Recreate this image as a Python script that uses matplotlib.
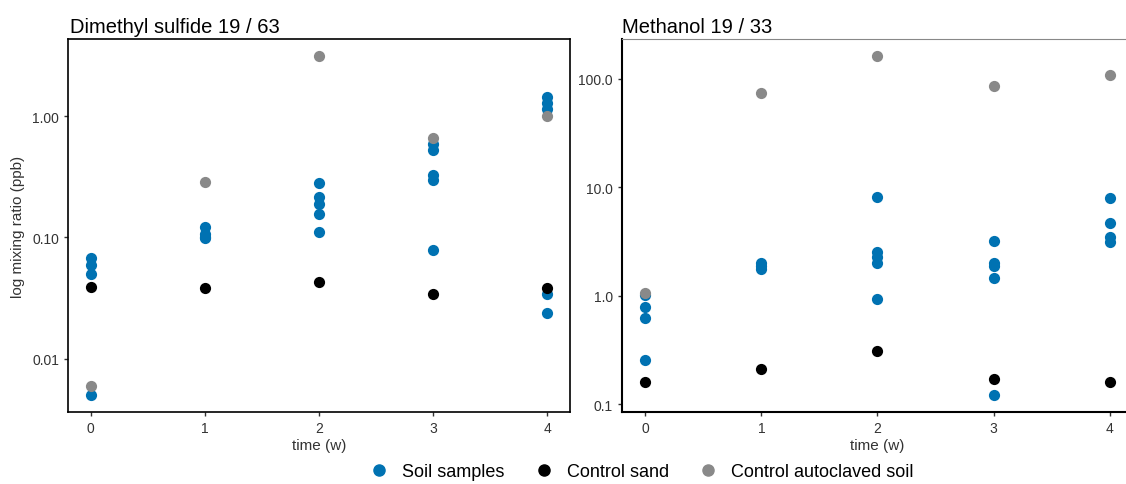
import numpy as np
import matplotlib.pyplot as plt
from matplotlib.ticker import FixedLocator, NullLocator
from matplotlib.lines import Line2D

plt.rcParams['font.family'] = ['Liberation Sans', 'DejaVu Sans']

# Dimethyl sulfide (left panel)
dms_soil_t = [0, 0, 0, 0, 1, 1, 1, 1, 2, 2, 2, 2, 2, 3, 3, 3, 3, 3, 4, 4, 4, 4, 4]
dms_soil_v = [0.068, 0.059, 0.050, 0.005,
              0.123, 0.106, 0.098, 0.100,
              0.28, 0.214, 0.19, 0.155, 0.11,
              0.59, 0.53, 0.326, 0.30, 0.078,
              1.44, 1.28, 1.14, 0.034, 0.024]
dms_sand_t = [0, 1, 2, 3, 4]
dms_sand_v = [0.039, 0.038, 0.043, 0.034, 0.038]
dms_auto_t = [0, 1, 2, 3, 4]
dms_auto_v = [0.006, 0.285, 3.13, 0.66, 1.0]

# Methanol (right panel)
meoh_soil_t = [0, 0, 0, 0, 1, 1, 1, 2, 2, 2, 2, 2, 3, 3, 3, 3, 3, 4, 4, 4, 4]
meoh_soil_v = [1.02, 0.78, 0.63, 0.255,
               2.0, 1.88, 1.76,
               8.2, 2.52, 2.27, 2.0, 0.94,
               3.18, 2.0, 1.9, 1.46, 0.122,
               8.0, 4.7, 3.5, 3.1]
meoh_sand_t = [0, 1, 2, 3, 4]
meoh_sand_v = [0.16, 0.21, 0.31, 0.17, 0.16]
meoh_auto_t = [0, 1, 2, 3, 4]
meoh_auto_v = [1.07, 74.4, 162, 86, 108.6]

blue = '#0072B2'
grey = '#898989'
black = '#000000'
ms = 65

fig = plt.figure(figsize=(11.26, 4.85), dpi=100)
ax1 = fig.add_axes([0.0604, 0.1485, 0.4458, 0.769])
ax2 = fig.add_axes([0.5524, 0.1485, 0.4538, 0.769])

for ax, st, sv, kt, kv, at, av in [
        (ax1, dms_soil_t, dms_soil_v, dms_sand_t, dms_sand_v, dms_auto_t, dms_auto_v),
        (ax2, meoh_soil_t, meoh_soil_v, meoh_sand_t, meoh_sand_v, meoh_auto_t, meoh_auto_v)]:
    ax.scatter(st, sv, s=ms, color=blue, linewidths=0, zorder=3)
    ax.scatter(kt, kv, s=ms, color=black, linewidths=0, zorder=3)
    ax.scatter(at, av, s=ms, color=grey, linewidths=0, zorder=3)
    ax.set_yscale('log')
    ax.set_xticks([0, 1, 2, 3, 4])
    ax.set_xlim(-0.2, 4.2)
    ax.yaxis.set_minor_locator(NullLocator())
    ax.tick_params(labelsize=10, length=3, width=1, colors='#333333', labelcolor='#333333')
    ax.set_xlabel('time (w)', fontsize=11, color='#333333', labelpad=2)

ax1.set_ylim(0.00363, 4.33)
ax1.yaxis.set_major_locator(FixedLocator([0.01, 0.1, 1.0]))
ax1.set_yticklabels(['0.01', '0.10', '1.00'])
ax1.set_ylabel('log mixing ratio (ppb)', fontsize=11, color='#333333')
ax1.yaxis.set_label_coords(-0.086, 0.5)
for sp in ax1.spines.values():
    sp.set_linewidth(1.2)
ax1.set_title('Dimethyl sulfide 19 / 63', loc='left', fontsize=14.5, x=0.004, pad=5)

ax2.set_ylim(0.085, 232)
ax2.yaxis.set_major_locator(FixedLocator([0.1, 1.0, 10.0, 100.0]))
ax2.set_yticklabels(['0.1', '1.0', '10.0', '100.0'])
ax2.spines['right'].set_visible(False)
ax2.spines['top'].set_color('#888888')
ax2.spines['left'].set_linewidth(1.5)
ax2.spines['bottom'].set_linewidth(1.5)
ax2.set_title('Methanol 19 / 33', loc='left', fontsize=14.5, x=0.0, pad=5)

handles = [Line2D([], [], marker='o', linestyle='', color=c, markersize=8)
           for c in [blue, black, grey]]
fig.legend(handles, ['Soil samples', 'Control sand', 'Control autoclaved soil'],
           loc='center', bbox_to_anchor=(0.566, 0.025), ncol=3, frameon=False,
           fontsize=13, handletextpad=0.25, columnspacing=1.2)

fig.savefig('out.png', dpi=100)
